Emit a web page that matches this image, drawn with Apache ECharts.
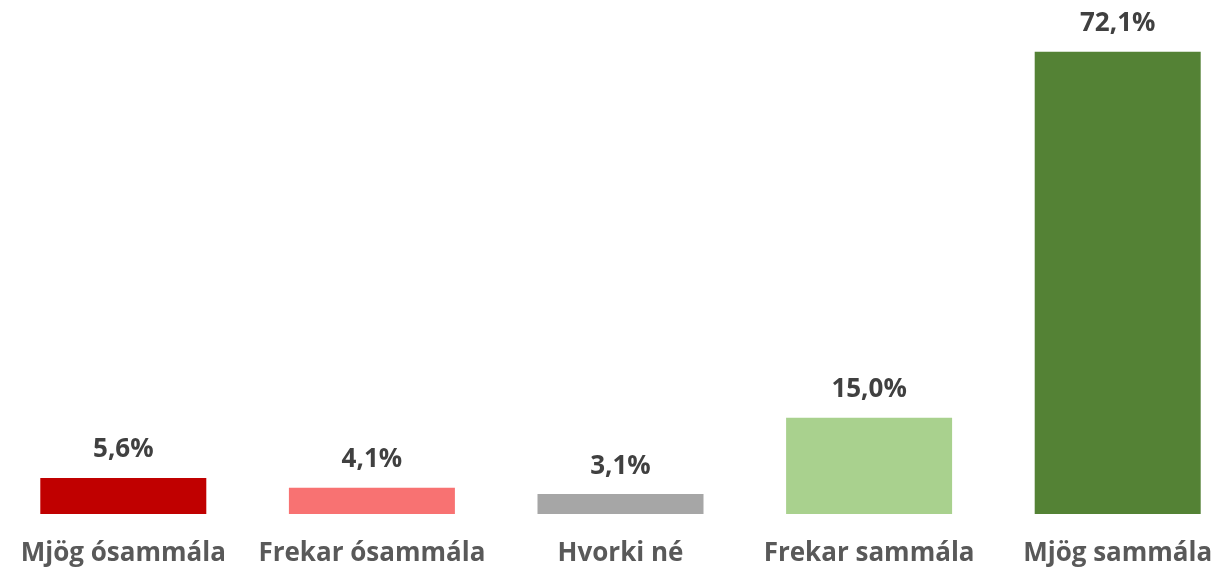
<!DOCTYPE html>
<html>
<head>
<meta charset="utf-8">
<script src="https://cdn.jsdelivr.net/npm/echarts@6/dist/echarts.min.js"></script>
<style>
  html, body { margin: 0; padding: 0; background: #fff; }
  #chart { width: 1220px; height: 573px; }
</style>
</head>
<body>
<div id="chart"></div>
<script>
// Flokkar og gildi (%)
const categories = ['Mjög ósammála', 'Frekar ósammála', 'Hvorki né', 'Frekar sammála', 'Mjög sammála']
const values = [5.6, 4.1, 3.1, 15.0, 72.1]
const barColors = ['#C00000', '#F87272', '#A6A6A6', '#A9D18E', '#548235']

const chart = echarts.init(document.getElementById('chart'))

const option = {
  animation: false,
  grid: {
    left: -1,
    right: -22,
    top: 1,
    bottom: 59,
    outerBoundsMode: 'none'
  },
  xAxis: {
    type: 'category',
    data: categories,
    axisLine: { show: false },
    axisTick: { show: false },
    axisLabel: {
      interval: 0,
      margin: 27,
      fontFamily: 'Open Sans',
      fontWeight: 'bold',
      fontSize: 26,
      color: '#595959'
    }
  },
  yAxis: {
    type: 'value',
    min: 0,
    max: 80,
    show: false,
    splitLine: { show: false }
  },
  series: [
    {
      type: 'bar',
      barWidth: 166,
      data: values.map((v, i) => ({ value: v, itemStyle: { color: barColors[i] } })),
      label: {
        show: true,
        position: 'top',
        distance: 15,
        fontFamily: 'Open Sans',
        fontWeight: 'bold',
        fontSize: 26,
        color: '#404040',
        formatter: (p) => p.value.toFixed(1).replace('.', ',') + '%'
      }
    }
  ]
}

chart.setOption(option)
</script>
</body>
</html>
